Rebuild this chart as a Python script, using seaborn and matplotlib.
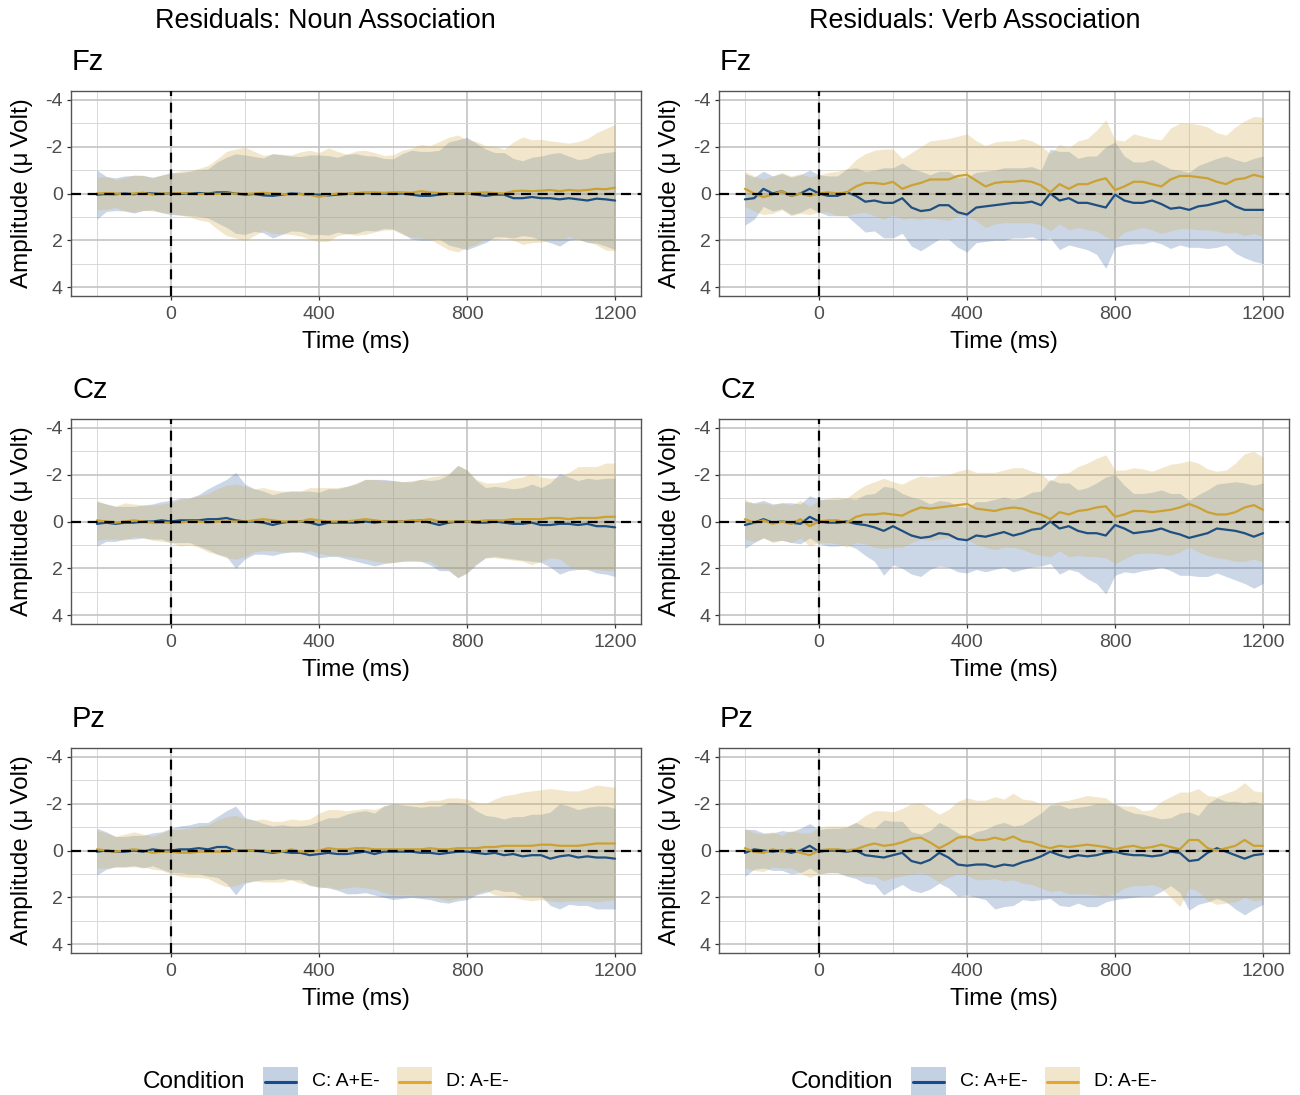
import numpy as np
import pandas as pd
import matplotlib
matplotlib.use("Agg")
import matplotlib.pyplot as plt
from matplotlib.patches import Rectangle
from matplotlib.lines import Line2D
import seaborn as sns

# ---------------------------------------------------------------------------
# Residual ERP waveforms (µV), sampled every 25 ms from -200 to 1200 ms.
# *_mean = condition mean, *_ci = half width of the confidence band.
# ---------------------------------------------------------------------------
time_ms = list(range(-200, 1201, 25))

conditions = ["C: A+E-", "D: A-E-"]
electrodes = ["Fz", "Cz", "Pz"]
column_titles = ["Residuals: Noun Association", "Residuals: Verb Association"]

# ---- Noun association -----------------------------------------------------
noun_fz_c_mean = [0.05, 0.02, 0.03, 0.0, 0.03, -0.02, 0.0, 0.02,
                  0.0, 0.02, 0.0, -0.02, 0.0, -0.05, -0.05, 0.0,
                  0.05, 0.02, 0.08, 0.1, 0.05, 0.0, 0.02, 0.05,
                  0.05, 0.08, 0.05, 0.02, 0.0, -0.02, 0.0, 0.0,
                  0.02, 0.0, 0.05, 0.1, 0.1, 0.05, 0.0, 0.0,
                  0.0, 0.05, 0.1, 0.05, 0.05, 0.2, 0.2, 0.15,
                  0.2, 0.2, 0.25, 0.2, 0.25, 0.3, 0.22, 0.25,
                  0.3]
noun_fz_c_ci = [1.05, 0.75, 0.7, 0.75, 0.8, 0.75, 0.7, 0.8,
                0.9, 0.9, 0.95, 1.0, 1.05, 1.3, 1.5, 1.7,
                1.7, 1.6, 1.6, 1.8, 1.7, 1.6, 1.6, 1.7,
                1.7, 1.7, 1.6, 1.7, 1.7, 1.6, 1.6, 1.5,
                1.5, 1.7, 1.9, 1.9, 1.9, 1.9, 2.2, 2.3,
                2.4, 2.2, 2.0, 1.8, 1.8, 1.7, 1.6, 1.7,
                1.8, 1.9, 2.0, 1.8, 1.7, 1.8, 1.9, 2.0,
                2.1]
noun_fz_d_mean = [0.0, -0.02, 0.0, 0.03, 0.0, -0.03, 0.05, 0.0,
                  0.0, -0.02, 0.0, 0.03, 0.0, 0.02, 0.0, 0.0,
                  0.02, 0.0, -0.03, 0.0, 0.02, 0.05, 0.02, 0.05,
                  0.15, 0.05, 0.0, 0.02, -0.02, -0.05, -0.05, -0.03,
                  -0.05, -0.05, -0.03, -0.1, -0.05, -0.02, 0.0, 0.0,
                  0.0, -0.03, -0.05, -0.02, 0.0, -0.1, -0.12, -0.1,
                  -0.12, -0.15, -0.1, -0.15, -0.12, -0.15, -0.2, -0.18,
                  -0.25]
noun_fz_d_ci = [0.7, 0.7, 0.6, 0.7, 0.8, 0.75, 0.7, 0.8,
                0.85, 0.95, 1.0, 1.1, 1.2, 1.5, 1.8, 1.9,
                2.0, 1.8, 1.6, 1.7, 1.7, 1.7, 1.8, 1.9,
                1.9, 2.0, 1.8, 1.7, 1.8, 1.8, 1.7, 1.6,
                1.6, 1.8, 1.9, 2.0, 2.0, 2.2, 2.4, 2.5,
                2.3, 2.2, 2.0, 2.0, 1.9, 2.1, 2.3, 2.2,
                2.2, 2.1, 2.1, 2.0, 2.1, 2.2, 2.4, 2.6,
                2.7]

noun_cz_c_mean = [0.1, 0.05, 0.1, 0.05, 0.05, 0.0, 0.0, -0.05,
                  0.0, -0.05, -0.05, -0.05, -0.1, -0.1, -0.15, -0.05,
                  0.0, 0.0, 0.05, 0.15, 0.05, 0.0, 0.0, 0.05,
                  0.15, 0.05, 0.05, 0.05, 0.05, 0.0, 0.05, 0.0,
                  0.0, 0.0, 0.0, -0.05, 0.05, 0.15, 0.05, 0.0,
                  0.0, 0.05, 0.05, 0.0, 0.05, 0.1, 0.1, 0.05,
                  0.15, 0.15, 0.1, 0.1, 0.15, 0.1, 0.2, 0.2,
                  0.25]
noun_cz_c_ci = [0.95, 0.8, 0.75, 0.7, 0.7, 0.7, 0.75, 0.8,
                0.9, 0.95, 0.95, 1.1, 1.3, 1.5, 1.65, 2.05,
                1.6, 1.4, 1.35, 1.3, 1.3, 1.3, 1.3, 1.35,
                1.4, 1.45, 1.45, 1.55, 1.65, 1.8, 1.85, 1.8,
                1.75, 1.7, 1.7, 1.75, 1.8, 1.95, 2.05, 2.4,
                2.2, 1.8, 1.5, 1.5, 1.5, 1.5, 1.55, 1.65,
                1.6, 1.8, 2.15, 2.0, 1.9, 1.95, 2.0, 2.05,
                2.1]
noun_cz_d_mean = [-0.05, 0.0, 0.05, 0.0, -0.05, 0.0, 0.05, 0.05,
                  0.05, 0.05, 0.0, 0.0, 0.05, 0.0, 0.0, 0.0,
                  0.0, -0.05, -0.1, -0.05, 0.0, 0.0, 0.0, -0.1,
                  -0.05, 0.0, 0.0, 0.0, -0.05, -0.1, -0.05, 0.0,
                  0.0, 0.0, -0.05, -0.05, -0.1, 0.0, 0.0, 0.0,
                  0.0, 0.0, -0.05, -0.05, -0.05, -0.1, -0.1, -0.1,
                  -0.1, -0.15, -0.15, -0.1, -0.15, -0.15, -0.15, -0.2,
                  -0.2]
noun_cz_d_ci = [0.85, 0.75, 0.7, 0.8, 0.7, 0.7, 0.75, 0.8,
                0.85, 1.0, 1.0, 1.1, 1.25, 1.4, 1.55, 1.6,
                1.5, 1.35, 1.35, 1.3, 1.3, 1.3, 1.3, 1.35,
                1.4, 1.45, 1.45, 1.5, 1.6, 1.7, 1.75, 1.75,
                1.75, 1.7, 1.7, 1.75, 1.8, 1.95, 2.05, 2.4,
                2.2, 1.8, 1.6, 1.6, 1.65, 1.75, 1.8, 1.95,
                1.8, 1.7, 1.75, 2.0, 2.2, 2.2, 2.2, 2.3,
                2.3]

noun_pz_c_mean = [0.05, 0.0, 0.05, 0.05, 0.0, 0.05, -0.05, 0.0,
                  0.0, -0.05, -0.05, -0.1, -0.05, -0.15, -0.15, 0.0,
                  0.0, 0.0, 0.05, 0.1, 0.05, 0.1, 0.1, 0.2,
                  0.15, 0.1, 0.15, 0.15, 0.1, 0.05, 0.15, 0.05,
                  0.05, 0.05, 0.05, 0.1, 0.1, 0.15, 0.1, 0.05,
                  0.05, 0.1, 0.15, 0.1, 0.2, 0.15, 0.25, 0.2,
                  0.2, 0.35, 0.25, 0.2, 0.3, 0.25, 0.3, 0.3,
                  0.35]
noun_pz_c_ci = [1.0, 0.8, 0.65, 0.65, 0.65, 0.7, 0.7, 0.8,
                0.95, 1.0, 1.05, 1.1, 1.15, 1.3, 1.55, 1.9,
                1.4, 1.3, 1.2, 1.15, 1.15, 1.15, 1.15, 1.3,
                1.4, 1.5, 1.55, 1.7, 1.75, 1.75, 1.75, 1.95,
                2.05, 2.0, 1.95, 1.95, 2.0, 2.05, 2.15, 2.1,
                2.05, 1.8, 1.65, 1.55, 1.55, 1.6, 1.7, 1.75,
                1.75, 2.0, 2.25, 2.1, 2.05, 2.1, 2.2, 2.2,
                2.15]
noun_pz_d_mean = [-0.05, 0.0, 0.05, 0.0, -0.05, 0.0, 0.1, 0.05,
                  0.05, 0.1, 0.1, 0.05, 0.05, 0.05, 0.05, 0.0,
                  0.0, 0.0, 0.0, 0.05, 0.05, -0.05, 0.05, 0.05,
                  0.0, -0.1, -0.05, -0.05, -0.1, -0.1, -0.05, -0.05,
                  -0.05, -0.05, -0.05, -0.05, -0.1, -0.05, -0.05, -0.1,
                  -0.1, -0.1, -0.15, -0.15, -0.2, -0.2, -0.2, -0.2,
                  -0.25, -0.25, -0.2, -0.2, -0.2, -0.25, -0.3, -0.3,
                  -0.3]
noun_pz_d_ci = [0.8, 0.75, 0.65, 0.7, 0.75, 0.7, 0.7, 0.8,
                0.95, 1.0, 1.05, 1.1, 1.15, 1.35, 1.5, 1.5,
                1.35, 1.3, 1.35, 1.3, 1.3, 1.3, 1.35, 1.4,
                1.6, 1.65, 1.7, 1.65, 1.65, 1.7, 1.7, 1.85,
                1.95, 1.95, 1.95, 2.0, 2.05, 2.1, 2.2, 2.15,
                2.1, 1.95, 1.85, 2.05, 2.15, 2.2, 2.3, 2.35,
                2.35, 2.4, 2.4, 2.35, 2.35, 2.4, 2.5, 2.45,
                2.4]

# ---- Verb association -----------------------------------------------------
verb_fz_c_mean = [0.25, 0.2, -0.2, 0.0, -0.1, 0.1, 0.0, -0.2,
                  0.0, 0.1, 0.1, -0.05, 0.1, 0.35, 0.3, 0.4,
                  0.4, 0.2, 0.6, 0.75, 0.7, 0.5, 0.5, 0.8,
                  0.9, 0.6, 0.55, 0.5, 0.45, 0.4, 0.4, 0.35,
                  0.5, 0.0, 0.3, 0.2, 0.4, 0.4, 0.5, 0.6,
                  0.05, 0.3, 0.4, 0.4, 0.3, 0.45, 0.65, 0.6,
                  0.7, 0.55, 0.5, 0.4, 0.3, 0.55, 0.7, 0.7,
                  0.7]
verb_fz_c_ci = [1.1, 0.9, 0.75, 0.75, 0.75, 0.8, 0.8, 0.8,
                0.8, 0.85, 0.85, 1.0, 1.2, 1.3, 1.3, 1.5,
                1.5, 1.5, 1.65, 1.7, 1.5, 1.45, 1.45, 1.5,
                1.6, 1.5, 1.5, 1.5, 1.55, 1.5, 1.5, 1.5,
                1.5, 1.9, 2.1, 2.0, 1.9, 2.0, 2.1, 2.6,
                2.25, 1.9, 1.75, 1.75, 1.75, 1.7, 1.7, 1.6,
                1.6, 1.75, 1.85, 1.9, 1.9, 2.0, 2.05, 2.2,
                2.3]
verb_fz_d_mean = [-0.2, 0.0, 0.15, 0.05, -0.1, 0.1, 0.0, 0.1,
                  0.0, -0.05, 0.0, -0.05, -0.3, -0.45, -0.45, -0.4,
                  -0.5, -0.2, -0.35, -0.45, -0.6, -0.6, -0.6, -0.75,
                  -0.8, -0.55, -0.3, -0.45, -0.5, -0.5, -0.55, -0.5,
                  -0.35, -0.05, -0.4, -0.2, -0.4, -0.4, -0.55, -0.65,
                  -0.15, -0.3, -0.5, -0.5, -0.4, -0.3, -0.6, -0.75,
                  -0.75, -0.7, -0.65, -0.5, -0.4, -0.6, -0.65, -0.8,
                  -0.7]
verb_fz_d_ci = [0.75, 0.75, 0.75, 0.8, 0.8, 0.85, 0.85, 0.8,
                0.8, 0.85, 0.95, 1.0, 1.15, 1.25, 1.4, 1.5,
                1.4, 1.3, 1.4, 1.55, 1.65, 1.7, 1.75, 1.7,
                1.75, 1.7, 1.75, 1.75, 1.75, 1.75, 1.8, 1.75,
                1.7, 1.65, 1.7, 1.75, 1.85, 1.95, 2.15, 2.5,
                2.15, 1.95, 2.05, 1.95, 1.95, 2.0, 2.2, 2.25,
                2.25, 2.25, 2.2, 2.1, 2.1, 2.25, 2.45, 2.5,
                2.55]

verb_cz_c_mean = [0.15, 0.05, -0.1, 0.05, 0.0, 0.05, 0.1, -0.2,
                  0.0, 0.05, 0.05, 0.0, 0.1, 0.15, 0.25, 0.4,
                  0.2, 0.4, 0.6, 0.7, 0.65, 0.5, 0.55, 0.75,
                  0.8, 0.6, 0.65, 0.55, 0.45, 0.6, 0.5, 0.35,
                  0.3, 0.0, 0.3, 0.2, 0.4, 0.5, 0.5, 0.6,
                  0.15, 0.3, 0.5, 0.45, 0.4, 0.3, 0.45, 0.55,
                  0.7, 0.6, 0.5, 0.3, 0.35, 0.4, 0.5, 0.65,
                  0.5]
verb_cz_c_ci = [1.0, 0.85, 0.8, 0.8, 0.8, 0.85, 0.85, 0.9,
                0.95, 1.0, 1.0, 1.0, 1.05, 1.3, 1.45, 1.9,
                1.65, 1.6, 1.65, 1.65, 1.4, 1.4, 1.4, 1.4,
                1.4, 1.45, 1.5, 1.5, 1.5, 1.55, 1.55, 1.6,
                1.6, 1.8, 1.95, 1.85, 1.75, 1.95, 2.15, 2.5,
                2.15, 1.85, 1.7, 1.65, 1.65, 1.65, 1.65, 1.75,
                1.6, 1.75, 1.85, 1.9, 2.0, 2.1, 2.15, 2.2,
                2.15]
verb_cz_d_mean = [-0.1, 0.05, -0.05, 0.1, 0.0, 0.1, -0.1, 0.2,
                  0.0, -0.05, -0.05, 0.05, -0.2, -0.3, -0.3, -0.35,
                  -0.3, -0.25, -0.45, -0.6, -0.55, -0.6, -0.65, -0.7,
                  -0.75, -0.55, -0.5, -0.45, -0.55, -0.6, -0.55, -0.4,
                  -0.3, -0.1, -0.4, -0.3, -0.45, -0.5, -0.6, -0.65,
                  -0.2, -0.3, -0.45, -0.45, -0.4, -0.45, -0.5, -0.6,
                  -0.75, -0.6, -0.4, -0.3, -0.3, -0.4, -0.6, -0.7,
                  -0.5]
verb_cz_d_ci = [0.85, 0.8, 0.75, 0.8, 0.8, 0.8, 0.8, 0.85,
                0.9, 0.95, 1.0, 1.05, 1.1, 1.25, 1.4, 1.5,
                1.4, 1.35, 1.35, 1.35, 1.35, 1.35, 1.35, 1.45,
                1.5, 1.55, 1.6, 1.65, 1.65, 1.7, 1.75, 1.75,
                1.75, 1.6, 1.65, 1.8, 1.9, 2.0, 2.1, 2.2,
                2.0, 1.9, 1.85, 1.8, 1.75, 1.85, 1.95, 1.9,
                1.85, 1.9, 1.85, 1.85, 1.9, 2.1, 2.3, 2.3,
                2.25]

verb_pz_c_mean = [0.1, -0.05, 0.0, 0.05, 0.0, 0.1, 0.0, -0.2,
                  0.05, 0.0, 0.0, 0.05, 0.0, 0.2, 0.25, 0.3,
                  0.2, 0.1, 0.45, 0.55, 0.4, 0.1, 0.3, 0.6,
                  0.65, 0.6, 0.6, 0.7, 0.6, 0.65, 0.5, 0.4,
                  0.25, 0.05, 0.2, 0.3, 0.2, 0.25, 0.2, 0.1,
                  0.05, 0.15, 0.2, 0.2, 0.25, 0.2, 0.05, 0.1,
                  0.45, 0.4, 0.1, -0.1, 0.05, 0.2, 0.35, 0.2,
                  0.15]
verb_pz_c_ci = [1.0, 0.85, 0.75, 0.8, 0.85, 0.9, 0.95, 0.95,
                0.95, 0.95, 0.95, 1.05, 1.2, 1.2, 1.2, 1.6,
                1.45, 1.35, 1.25, 1.25, 1.25, 1.3, 1.3, 1.35,
                1.25, 1.4, 1.5, 1.8, 1.8, 1.7, 1.6, 1.75,
                1.85, 2.0, 2.15, 2.1, 2.05, 2.15, 2.2, 2.1,
                2.05, 1.9, 1.8, 1.75, 1.7, 1.55, 1.45, 1.7,
                2.1, 1.9, 2.1, 2.15, 2.15, 2.3, 2.4, 2.3,
                2.15]
verb_pz_d_mean = [-0.1, 0.05, 0.1, -0.05, 0.05, -0.05, 0.1, 0.2,
                  0.0, -0.05, -0.05, 0.0, -0.05, -0.2, -0.3, -0.2,
                  -0.25, -0.35, -0.5, -0.55, -0.35, -0.1, -0.3, -0.55,
                  -0.6, -0.45, -0.45, -0.55, -0.45, -0.6, -0.4, -0.35,
                  -0.2, -0.1, -0.2, -0.15, -0.2, -0.25, -0.2, -0.15,
                  -0.05, -0.15, -0.2, -0.1, -0.15, -0.25, -0.15, -0.05,
                  -0.45, -0.45, -0.1, 0.0, -0.1, -0.2, -0.45, -0.2,
                  -0.2]
verb_pz_d_ci = [0.85, 0.8, 0.8, 0.75, 0.7, 0.8, 0.85, 0.95,
                1.0, 1.0, 1.0, 1.05, 1.15, 1.3, 1.4, 1.5,
                1.4, 1.45, 1.5, 1.5, 1.45, 1.45, 1.45, 1.55,
                1.65, 1.7, 1.7, 1.75, 1.75, 1.85, 1.8, 1.8,
                1.8, 1.85, 1.9, 2.0, 2.05, 2.1, 2.1, 2.1,
                1.9, 1.75, 1.7, 1.6, 1.6, 1.85, 2.15, 2.45,
                2.05, 2.2, 2.25, 2.3, 2.35, 2.4, 2.45, 2.35,
                2.3]

panels = {
    ("noun", "Fz"): (noun_fz_c_mean, noun_fz_c_ci, noun_fz_d_mean, noun_fz_d_ci),
    ("noun", "Cz"): (noun_cz_c_mean, noun_cz_c_ci, noun_cz_d_mean, noun_cz_d_ci),
    ("noun", "Pz"): (noun_pz_c_mean, noun_pz_c_ci, noun_pz_d_mean, noun_pz_d_ci),
    ("verb", "Fz"): (verb_fz_c_mean, verb_fz_c_ci, verb_fz_d_mean, verb_fz_d_ci),
    ("verb", "Cz"): (verb_cz_c_mean, verb_cz_c_ci, verb_cz_d_mean, verb_cz_d_ci),
    ("verb", "Pz"): (verb_pz_c_mean, verb_pz_c_ci, verb_pz_d_mean, verb_pz_d_ci),
}
for key, arrays in panels.items():
    for arr in arrays:
        assert len(arr) == len(time_ms), (key, len(arr))

# ---------------------------------------------------------------------------
# Style
# ---------------------------------------------------------------------------
sns.set_theme(style="white")
plt.rcParams["font.family"] = ["Liberation Sans", "DejaVu Sans"]

fill_colors = {"C: A+E-": "#5479AE", "D: A-E-": "#D4B258"}
line_colors = {"C: A+E-": "#1E4F80", "D: A-E-": "#CBA232"}
key_line_colors = {"C: A+E-": "#17498C", "D: A-E-": "#E3A72F"}
key_fill_colors = {"C: A+E-": "#C3D1E2", "D: A-E-": "#F1E5CC"}
RIBBON_ALPHA = 0.3

W, H = 1300, 1095
fig = plt.figure(figsize=(W / 100, H / 100), dpi=100)
fig.patch.set_facecolor("white")

col_left_px = [71, 719]
row_top_px = [90.6, 418.6, 747.6]
panel_w_px, panel_h_px = 570, 205.8
title_y_px = [62, 390, 719]

t = np.array(time_ms, dtype=float)

for ci_, analysis in enumerate(["noun", "verb"]):
    for ri, elec in enumerate(electrodes):
        left = col_left_px[ci_]
        top = row_top_px[ri]
        ax = fig.add_axes([left / W, 1 - (top + panel_h_px) / H,
                           panel_w_px / W, panel_h_px / H])
        c_mean, c_ci, d_mean, d_ci = [np.array(a) for a in panels[(analysis, elec)]]

        # confidence bands
        ax.fill_between(t, c_mean - c_ci, c_mean + c_ci, color=fill_colors[conditions[0]],
                        alpha=RIBBON_ALPHA, lw=0, zorder=2)
        ax.fill_between(t, d_mean - d_ci, d_mean + d_ci, color=fill_colors[conditions[1]],
                        alpha=RIBBON_ALPHA, lw=0, zorder=2)

        df = pd.DataFrame({
            "time": np.concatenate([t, t]),
            "amp": np.concatenate([c_mean, d_mean]),
            "cond": [conditions[0]] * len(t) + [conditions[1]] * len(t),
        })
        sns.lineplot(data=df, x="time", y="amp", hue="cond", hue_order=conditions,
                     palette=line_colors, ax=ax, legend=False, linewidth=1.6,
                     estimator=None, sort=False, zorder=3)

        ax.axhline(0, color="black", lw=1.6, ls=(0, (4.5, 3)), zorder=4)
        ax.axvline(0, color="black", lw=1.6, ls=(0, (4.5, 3)), zorder=4)

        ax.set_xlim(-270, 1270)
        ax.set_ylim(4.4, -4.4)
        ax.set_xticks([0, 400, 800, 1200])
        ax.set_xticks([-200, 200, 600, 1000], minor=True)
        ax.set_yticks([-4, -2, 0, 2, 4])
        ax.set_yticks([-3, -1, 1, 3], minor=True)
        ax.set_yticklabels(["-4", "-2", "0", "2", "4"])
        ax.set_axisbelow(True)
        ax.grid(which="major", color="#BFBFBF", lw=1.1, zorder=0)
        ax.grid(which="minor", color="#D8D8D8", lw=0.7, zorder=0)
        ax.tick_params(which="major", length=3, width=0.9, color="#333333",
                       labelsize=14, labelcolor="#4D4D4D", pad=3,
                       bottom=True, left=True)
        ax.tick_params(axis="x", which="major", pad=4)
        ax.tick_params(which="minor", length=0)
        for sp in ax.spines.values():
            sp.set_color("#555555")
            sp.set_linewidth(1.0)

        ax.set_xlabel("Time (ms)", fontsize=17.5, color="black")
        ax.set_ylabel("Amplitude (\u03bc\u2009Volt)", fontsize=17.5, color="black")
        ax.xaxis.label.set_verticalalignment("center")
        ax.yaxis.label.set_verticalalignment("center")
        ax.xaxis.set_label_coords(0.5, -45.5 / panel_h_px)
        ax.yaxis.set_label_coords(-49 / panel_w_px, 0.5)

        fig.text((left + 1) / W, 1 - title_y_px[ri] / H, elec, fontsize=21,
                 ha="left", va="center", color="black")

# column titles
for ci_, title in enumerate(column_titles):
    fig.text(0.25 + 0.5 * ci_, 1 - 21 / H, title, fontsize=19.4,
             ha="center", va="center", color="black")

# legends under each column
legend_y = 1082
for ci_ in range(2):
    off = 648 * ci_
    fig.text((143 + off) / W, 1 - legend_y / H, "Condition", fontsize=17.5,
             ha="left", va="center", color="black")
    for k, (kx, lx) in enumerate([(263, 312), (397, 446)]):
        cond = conditions[k]
        x0 = kx + off
        fig.add_artist(Rectangle((x0 / W, 1 - (legend_y + 15) / H), 35 / W, 30 / H,
                                 transform=fig.transFigure, facecolor=key_fill_colors[cond],
                                 edgecolor="none"))
        fig.add_artist(Line2D([(x0 + 2) / W, (x0 + 33) / W],
                              [1 - legend_y / H, 1 - legend_y / H],
                              transform=fig.transFigure, color=key_line_colors[cond], lw=2.2))
        fig.text((lx + off) / W, 1 - legend_y / H, cond, fontsize=14,
                 ha="left", va="center", color="black")

fig.savefig("out.png", dpi=100, facecolor="white")
